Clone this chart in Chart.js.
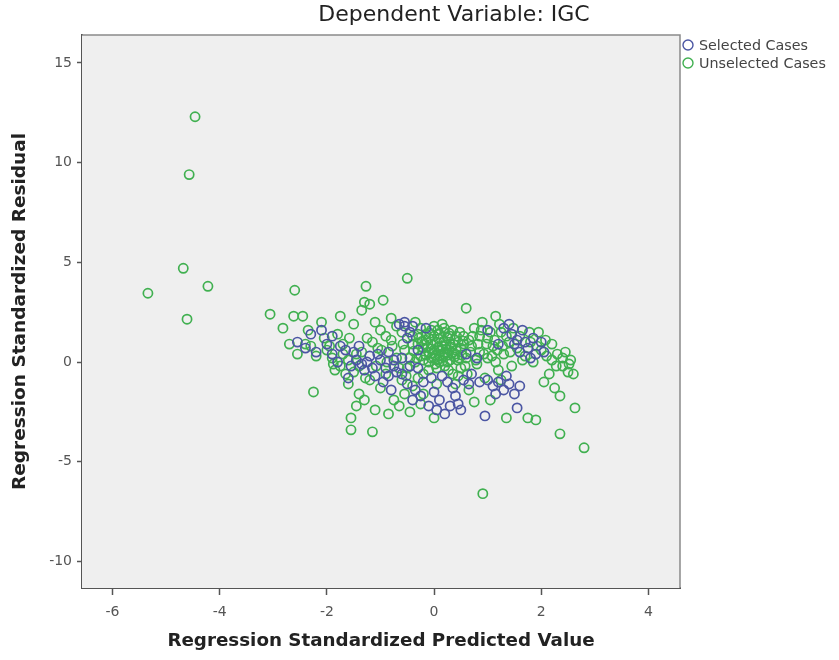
<!DOCTYPE html>
<html>
<head>
<meta charset="utf-8">
<title>Dependent Variable: IGC</title>
<script src="https://cdn.jsdelivr.net/npm/chart.js@4.4.1/dist/chart.umd.min.js"></script>
<style>
  html, body { margin: 0; padding: 0; background: #ffffff; }
  #wrap { position: relative; width: 839px; height: 660px; }
</style>
</head>
<body>
<div id="wrap"><canvas id="scatter" width="839" height="660"></canvas></div>
<script>
const chartTitle = 'Dependent Variable: IGC';
const xAxisTitle = 'Regression Standardized Predicted Value';
const yAxisTitle = 'Regression Standardized Residual';
const seriesNames = ['Selected Cases', 'Unselected Cases'];

const xTicks = [-6, -4, -2, 0, 2, 4];
const yTicks = [-10, -5, 0, 5, 10, 15];

// [predicted, residual] pairs
const selectedPoints = [
  [-2.55, 1.0], [-2.4, 0.7], [-2.2, 0.5], [-2.0, 0.9], [-1.9, 0.4], [-1.8, 0.0],
  [-1.65, 0.6], [-1.55, -0.2], [-1.45, 0.1], [-1.4, 0.8], [-1.3, -0.4], [-1.2, 0.3],
  [-1.1, -0.7], [-1.0, 0.1], [-0.95, -1.0], [-0.85, 0.5], [-0.8, -1.4], [-0.7, -0.5],
  [-0.65, 1.9], [-0.55, 1.8], [-0.5, -1.1], [-0.45, 1.5], [-0.4, -1.9], [-0.3, -0.3],
  [-0.2, -1.0], [-0.15, 1.7], [-0.1, -2.2], [0.0, -1.5], [0.1, -1.9], [0.2, -2.6],
  [0.25, -1.0], [0.3, -2.2], [0.4, -1.7], [0.5, -2.4], [0.55, -0.9], [0.7, -0.6],
  [0.85, -1.0], [0.95, -2.7], [1.0, -0.9], [1.1, -1.2], [1.2, -1.0], [1.3, -1.4],
  [1.4, -1.1], [1.5, -1.6], [1.55, -2.3], [1.3, 1.7], [1.45, 1.4], [1.6, 0.5],
  [1.7, 1.0], [1.75, 0.7], [1.85, 1.2], [1.9, 0.4], [2.0, 1.0], [1.2, 0.9],
  [1.0, 1.6], [-1.6, -0.8], [-1.9, 1.3], [-2.3, 1.4], [-0.6, 0.2], [-0.3, 0.6],
  [0.6, 0.4], [0.8, 0.2], [-0.75, -0.2], [-1.25, 0.0], [-0.35, -1.4], [0.15, -0.7],
  [1.65, 1.6], [1.5, 0.9], [-0.5, 1.2], [-0.9, -0.3],
  [-2.1, 1.6], [-1.75, 0.8], [-1.5, 0.5], [-1.35, -0.1], [-1.15, -0.3], [-1.05, 0.4],
  [-0.85, -0.7], [-0.75, 0.1], [-0.6, -0.6], [-0.45, -0.2], [-0.25, -1.7], [-0.05, -0.8],
  [0.05, -2.4], [0.35, -1.3], [0.45, -2.1], [0.65, -1.1], [1.15, -1.6], [1.35, -0.7],
  [1.6, -1.2], [1.4, 1.9], [1.55, 1.1], [1.8, 0.2], [2.05, 0.5], [-0.55, 2.0],
  [-0.4, 1.8]
];

const unselectedPoints = [
  [-4.46, 12.3], [-4.57, 9.4], [-4.68, 4.7], [-4.22, 3.8], [-5.34, 3.45], [-4.61, 2.15],
  [-3.06, 2.4], [-2.62, 2.3], [-2.6, 3.6], [-2.82, 1.7], [-2.45, 2.3], [-2.55, 0.4],
  [-2.35, 1.6], [-2.3, 0.8], [-2.25, -1.5], [-2.2, 0.3], [-2.1, 2.0], [-2.05, 1.2],
  [-2.0, 0.6], [-2.4, 0.9], [-2.7, 0.9],
  [-1.9, 0.2], [-1.85, -0.4], [-1.8, 1.4], [-1.75, 2.3], [-1.7, 0.9], [-1.65, -0.6],
  [-1.6, -1.1], [-1.55, -2.8], [-1.55, -3.4], [-1.5, 1.9], [-1.45, 0.4], [-1.4, -0.2],
  [-1.4, -1.6], [-1.35, 2.6], [-1.3, 3.0], [-1.27, 3.8], [-1.25, 1.2], [-1.2, -0.9],
  [-1.15, -3.5], [-1.1, -2.4], [-1.1, 2.0], [-1.05, 0.7], [-1.0, -1.3], [-1.0, 1.6],
  [-1.2, 2.9], [-1.6, 0.1], [-1.75, -0.2], [-1.3, -1.9], [-1.45, -2.2],
  [-1.95, 0.8], [-1.88, -0.1], [-1.7, 0.4], [-1.58, 1.2], [-1.5, -0.5], [-1.35, 0.5],
  [-1.28, -0.8], [-1.15, 1.0], [-1.08, -0.2],
  [-0.95, 3.1], [-0.9, -0.6], [-0.85, -2.6], [-0.8, 2.2], [-0.8, 1.1], [-0.75, -1.9],
  [-0.7, 0.2], [-0.65, -2.2], [-0.6, 1.5], [-0.55, 0.6], [-0.5, 4.2], [-0.5, -0.3],
  [-0.45, -2.5], [-0.4, -1.2], [-0.4, 0.9], [-0.35, 2.0], [-0.3, -0.8], [-0.3, 1.4],
  [-0.25, 0.3], [-0.2, -1.6], [-0.2, 0.7], [-0.15, 1.1], [-0.1, -0.4], [-0.1, 0.5],
  [-0.05, 1.6], [0.0, -2.8], [0.0, 0.2], [-0.6, -0.9], [-0.7, 1.8], [-0.9, 1.3],
  [-0.25, -2.1], [-0.35, 0.0], [-0.98, 0.6], [-0.88, 0.0], [-0.78, 0.8], [-0.65, -0.3],
  [-0.58, 0.9], [-0.52, -0.7], [-0.55, -1.6],
  [0.0, 0.6], [0.05, 1.0], [0.1, 0.3], [0.1, 1.4], [0.15, 0.8], [0.2, -0.2],
  [0.2, 0.5], [0.25, 1.2], [0.3, 0.1], [0.3, 0.9], [0.35, -0.6], [0.35, 1.6],
  [0.4, 0.4], [0.45, 1.0], [0.5, -0.3], [0.5, 0.7], [0.05, -0.3], [-0.05, 0.9],
  [0.15, 1.9], [0.25, 0.0], [0.4, -1.1], [0.55, 1.3], [0.6, 0.2], [0.6, 2.7],
  [0.0, 1.3], [-0.1, 0.0], [0.12, 0.55], [0.28, 0.6], [0.08, 0.75], [0.18, 1.05],
  [-0.15, 0.35], [0.38, 0.25], [0.22, 0.85], [-0.02, 0.45],
  [-0.45, 0.2], [-0.4, 1.3], [-0.3, 0.9], [-0.25, 1.7], [-0.2, 0.1], [-0.15, 1.4],
  [-0.1, 1.2], [-0.05, 0.2], [0.0, 1.8], [0.02, -0.1], [0.07, 1.6], [0.1, 0.0],
  [0.12, 1.2], [0.17, 0.3], [0.2, 1.5], [0.23, 0.65], [0.27, -0.4], [0.3, 1.3],
  [0.33, 0.45], [0.36, 0.9], [0.42, 1.3], [0.44, 0.1], [0.48, 1.5], [0.52, 0.35],
  [0.56, 0.9], [0.58, -0.2], [-0.38, 0.55], [-0.22, 1.05], [0.03, 0.35], [0.16, 0.05],
  [-0.2, -0.6], [0.45, -0.7], [0.05, -1.1], [0.62, -0.6],
  [-0.32, 0.2], [-0.28, 1.2], [-0.12, 0.75], [-0.08, 1.45], [0.06, 0.1], [0.09, 1.15],
  [0.14, 0.65], [0.19, 1.7], [0.26, 0.35], [0.32, 0.75], [0.38, 1.1], [0.41, 0.6],
  [0.47, 0.2], [0.54, 1.05], [0.18, 0.4], [-0.06, 0.65], [0.28, 1.45], [-0.18, 0.9],
  [0.65, -1.4], [0.7, 0.8], [0.75, 1.7], [0.8, -0.1], [0.85, 0.5], [0.9, 2.0],
  [0.95, -0.8], [1.0, 1.2], [1.0, 0.2], [1.05, -1.9], [1.1, 0.8], [1.15, 2.3],
  [1.2, -0.4], [1.25, 1.5], [1.3, 0.4], [1.35, -2.8], [1.4, 1.0], [1.45, -0.2],
  [0.91, -6.6], [0.85, 1.3], [1.15, 0.0], [0.75, -2.0], [0.65, 1.1],
  [0.68, 0.5], [0.72, 1.3], [0.78, 0.1], [0.82, 0.9], [0.88, 1.6], [0.93, 0.4],
  [0.98, 0.9], [1.05, 1.5], [1.08, 0.3], [1.13, 1.1], [1.18, 0.6], [1.22, 1.9],
  [1.28, 0.8], [1.35, 1.3], [1.42, 0.5], [1.48, 1.7], [1.25, -0.9],
  [1.55, 0.7], [1.6, 1.3], [1.7, 0.3], [1.75, -2.8], [1.8, 1.0], [1.85, 0.0],
  [1.9, -2.9], [2.0, 0.6], [2.05, -1.0], [2.1, 0.3], [2.15, -0.6], [2.2, 0.9],
  [2.25, -1.3], [2.3, 0.4], [2.35, -3.6], [2.4, -0.2], [2.45, 0.5], [2.5, -0.5],
  [2.6, -0.6], [2.63, -2.3], [2.8, -4.3], [2.35, -1.7], [2.2, 0.1], [1.95, 1.5],
  [2.55, 0.1], [1.65, 0.1], [1.78, 1.5], [1.92, 0.8], [2.08, 1.1], [2.28, -0.2],
  [2.4, 0.2], [2.52, -0.1]
];

const selectedColor = '#4b56a3';
const unselectedColor = '#40b050';
const fontFamily = '"DejaVu Sans", Verdana, sans-serif';

// grey plot panel plus the thin top/right frame
const panelPlugin = {
  id: 'panel',
  beforeDatasetsDraw(chart) {
    const { ctx, chartArea: a } = chart;
    ctx.save();
    ctx.fillStyle = '#efefef';
    ctx.fillRect(a.left, a.top, a.right - a.left, a.bottom - a.top);
    ctx.strokeStyle = '#8a8a8a';
    ctx.lineWidth = 1.5;
    ctx.beginPath();
    ctx.moveTo(a.left, a.top);
    ctx.lineTo(a.right, a.top);
    ctx.lineTo(a.right, a.bottom);
    ctx.stroke();
    ctx.restore();
  }
};

// legend to the right of the panel, plus the title
const extras = {
  id: 'extras',
  afterDraw(chart) {
    const { ctx, chartArea: a } = chart;
    ctx.save();
    ctx.font = '14.3px ' + fontFamily;
    ctx.textBaseline = 'middle';
    ctx.textAlign = 'left';
    [selectedColor, unselectedColor].forEach((c, i) => {
      const y = a.top + 10 + i * 18;
      ctx.beginPath();
      ctx.arc(a.right + 8, y, 5, 0, Math.PI * 2);
      ctx.strokeStyle = c;
      ctx.lineWidth = 1.4;
      ctx.stroke();
      ctx.fillStyle = '#444444';
      ctx.fillText(seriesNames[i], a.right + 19, y + 1);
    });

    ctx.font = '22px ' + fontFamily;
    ctx.fillStyle = '#222222';
    ctx.textAlign = 'center';
    ctx.fillText(chartTitle, 454, 15);
    ctx.restore();
  }
};

const toXY = (p) => ({ x: p[0], y: p[1] });

new Chart(document.getElementById('scatter'), {
  type: 'scatter',
  data: {
    datasets: [
      {
        label: seriesNames[0],
        data: selectedPoints.map(toXY),
        borderColor: selectedColor,
        backgroundColor: 'rgba(0,0,0,0)',
        pointRadius: 4.6,
        borderWidth: 1.7,
        order: 0
      },
      {
        label: seriesNames[1],
        data: unselectedPoints.map(toXY),
        borderColor: unselectedColor,
        backgroundColor: 'rgba(0,0,0,0)',
        pointRadius: 4.6,
        borderWidth: 1.7,
        order: 1
      }
    ]
  },
  plugins: [panelPlugin, extras],
  options: {
    responsive: false,
    animation: false,
    layout: { padding: { top: 35, right: 159, left: 0, bottom: 0 } },
    plugins: {
      legend: { display: false },
      tooltip: { enabled: false },
      title: { display: false }
    },
    scales: {
      x: {
        type: 'linear',
        min: -6.57,
        max: 4.59,
        afterFit: (s) => { s.height = 72; },
        afterBuildTicks: (s) => { s.ticks = xTicks.map(v => ({ value: v })); },
        grid: { drawOnChartArea: false, drawTicks: true, tickLength: 7, color: '#555555', tickWidth: 1.5 },
        border: { display: true, color: '#555555', width: 2 },
        ticks: { padding: 9, color: '#555555', font: { family: fontFamily, size: 14 } },
        title: {
          display: true,
          text: xAxisTitle,
          color: '#222222',
          font: { family: fontFamily, size: 18.3, weight: 'bold' },
          padding: { top: 0, bottom: 8 }
        }
      },
      y: {
        type: 'linear',
        min: -11.33,
        max: 16.4,
        afterFit: (s) => { s.width = 82; },
        afterBuildTicks: (s) => { s.ticks = yTicks.map(v => ({ value: v })); },
        grid: { drawOnChartArea: false, drawTicks: true, tickLength: 5, color: '#555555', tickWidth: 1.5 },
        border: { display: true, color: '#555555', width: 2 },
        ticks: { padding: 5, color: '#555555', font: { family: fontFamily, size: 14 } },
        title: {
          display: true,
          text: yAxisTitle,
          color: '#222222',
          font: { family: fontFamily, size: 18.5, weight: 'bold' },
          padding: { top: 9, bottom: 0 }
        }
      }
    }
  }
});
</script>
</body>
</html>
